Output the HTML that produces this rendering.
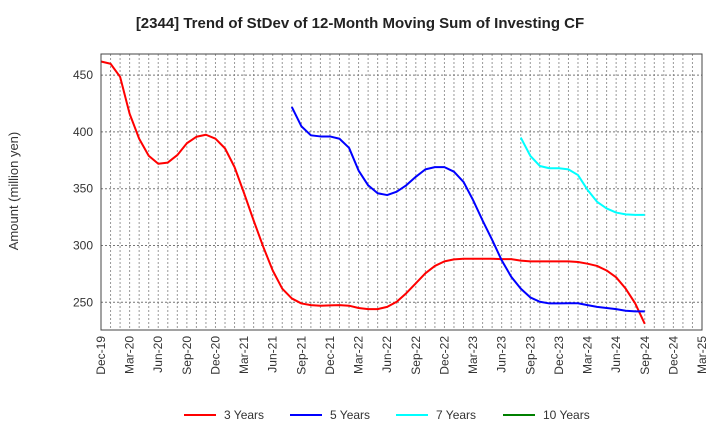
<!DOCTYPE html>
<html><head><meta charset="utf-8"><style>
body{margin:0;background:#fff;font-family:"Liberation Sans",sans-serif}
svg text{font-family:"Liberation Sans",sans-serif}
</style></head><body>
<svg id="chart" width="720" height="440" xmlns="http://www.w3.org/2000/svg">
<text x="360" y="28" text-anchor="middle" font-size="15" font-weight="bold" fill="#222">[2344]  Trend of StDev of 12-Month Moving Sum of Investing CF</text>
<text transform="translate(18,191) rotate(-90)" text-anchor="middle" font-size="13" fill="#333">Amount (million yen)</text>
<g id="grid"></g><g id="series"></g><g id="axes"></g>
<g id="legend"></g>
</svg>
<script>
const xLabels=["Dec-19","Mar-20","Jun-20","Sep-20","Dec-20","Mar-21","Jun-21","Sep-21","Dec-21","Mar-22","Jun-22","Sep-22","Dec-22","Mar-23","Jun-23","Sep-23","Dec-23","Mar-24","Jun-24","Sep-24","Dec-24","Mar-25"];
const yTicks=[250,300,350,400,450];
const seriesNames=["3 Years","5 Years","7 Years","10 Years"];
const seriesColors=["#ff0000","#0000ff","#00ffff","#008000"];
const s3Start=0;
const s3=[462,460,448.5,416,394,379,372,373,379.6,390,395.7,397.5,394,385.5,369,346,322,299,278,262,253.4,249,247.5,247,247.3,247.5,247,245,244,244,246,250.5,258,266.7,275.5,282,286,287.8,288.3,288.3,288.3,288.3,288,288,286.7,286,286,286,286,286,285.5,284,282,278,272,262,249,231];
const s5Start=20;
const s5=[422,405,397,396,396,394,386,366,353,346,344.4,347.4,353,360.5,367,369,369,365,356,340,322,305,287,272.5,262,254.3,250.5,249,249,249.2,249.2,247.5,246,245,244,242.6,242,242];
const s7Start=44;
const s7=[395,379,370,368,368,367,362,349,338.5,332.6,329,327.4,327,327];
const s10=[];
const L=101,R=702,T=54,B=330;
const xm=m=>L+m*(R-L)/63;
const ys=v=>302.3-(v-250)*56.8/50;
const NS="http://www.w3.org/2000/svg";
function mk(tag,attrs,parent,txt){const e=document.createElementNS(NS,tag);for(const k in attrs)e.setAttribute(k,attrs[k]);if(txt!==undefined)e.textContent=txt;parent.appendChild(e);return e;}
const grid=document.getElementById('grid'),axes=document.getElementById('axes'),ser=document.getElementById('series'),leg=document.getElementById('legend');
for(let m=1;m<63;m++){const l=mk('line',{x1:xm(m),x2:xm(m),y1:T,y2:B,stroke:'#999','stroke-width':1,'stroke-dasharray':'2,2'},grid);

}
yTicks.forEach(v=>{const l=mk('line',{x1:L,x2:R,y1:ys(v),y2:ys(v),stroke:'#777','stroke-width':1,'stroke-dasharray':'2,2'},grid);


const t=mk('text',{x:L-8,y:ys(v)+4,'text-anchor':'end','font-size':12,fill:'#333'},axes,String(v));

});
const fr=mk('rect',{x:L,y:T,width:R-L,height:B-T,fill:'none',stroke:'#444','stroke-width':1},axes);


xLabels.forEach((s,i)=>{const x=xm(i*3);const t=mk('text',{transform:`translate(${x+4},${B+6}) rotate(-90)`,'text-anchor':'end','font-size':12,fill:'#333'},axes,s);

});
function draw(data,start,color,name){if(!data.length)return;const p=mk('polyline',{points:data.map((v,i)=>xm(start+i)+','+ys(v)).join(' '),fill:'none',stroke:color,'stroke-width':2,'stroke-linejoin':'round'},ser);

}
draw(s3,s3Start,seriesColors[0],'line-3-years');
draw(s5,s5Start,seriesColors[1],'line-5-years');
draw(s7,s7Start,seriesColors[2],'line-7-years');
draw(s10,0,seriesColors[3],'line-10-years');
const lx=[184,290,396,503];
seriesNames.forEach((n,i)=>{const g=mk('g',{},leg);


mk('line',{x1:lx[i],x2:lx[i]+32,y1:415,y2:415,stroke:seriesColors[i],'stroke-width':2},g);
mk('text',{x:lx[i]+40,y:419,'font-size':12,fill:'#333'},g,n);});
</script>
</body></html>
